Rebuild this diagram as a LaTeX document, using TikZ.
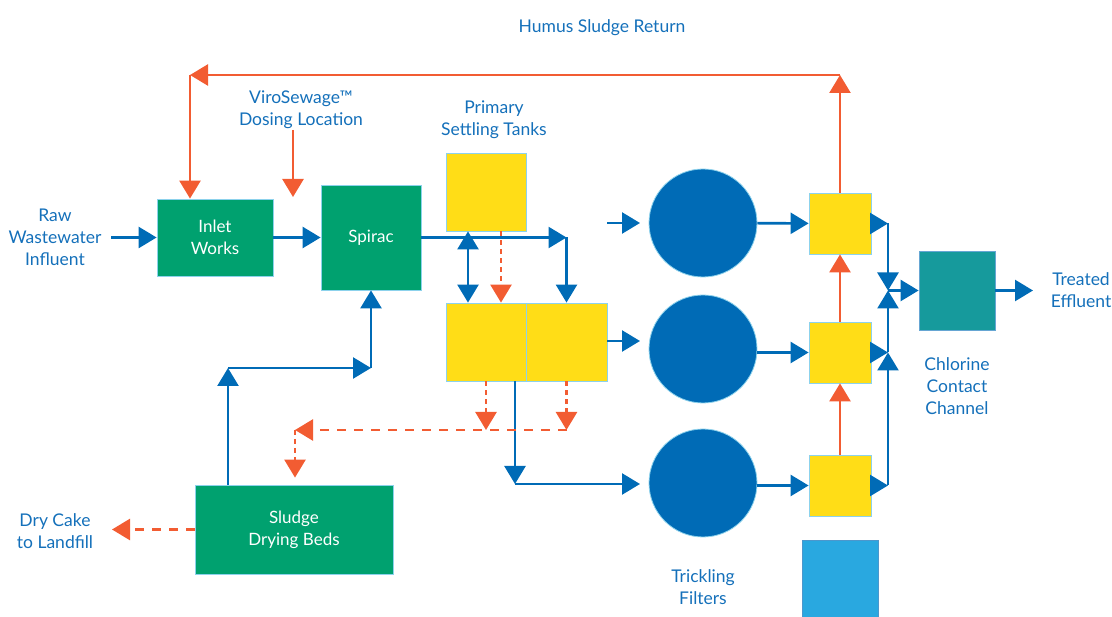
\documentclass[tikz,border=0pt]{standalone}
\usepackage{fontspec}
\setmainfont{Lato}
\usepackage{xcolor}
\usepackage{tikz}
\usetikzlibrary{arrows.meta}

\definecolor{flowblue}{RGB}{0,107,182}
\definecolor{sludgered}{RGB}{242,92,50}
\definecolor{plantgreen}{RGB}{0,161,111}
\definecolor{tankyellow}{RGB}{255,221,23}
\definecolor{chlorteal}{RGB}{22,154,156}
\definecolor{skyblue}{RGB}{41,168,224}
\definecolor{rimblue}{RGB}{140,210,236}
\definecolor{labelblue}{RGB}{20,112,186}

\tikzset{
    unit/.style={draw=rimblue,line width=0.8pt,text=white,align=center,font=\fontsize{17}{22}\selectfont,inner sep=0pt},
    greenbox/.style={unit,fill=plantgreen},
    tankbox/.style={unit,fill=tankyellow},
    filter/.style={circle,draw=rimblue,line width=0.8pt,fill=flowblue,minimum size=108pt,inner sep=0pt},
    caption/.style={text=labelblue,align=center,font=\fontsize{17.5}{22}\selectfont},
    flow/.style={draw=flowblue,line width=2.6pt,-{Triangle[length=18pt,width=21pt]}},
    sludge/.style={draw=sludgered,line width=2.6pt,-{Triangle[length=18pt,width=21pt]}},
    wet/.style={sludge,dash pattern=on 9pt off 8pt},
    drip/.style={sludge,dash pattern=on 5pt off 4pt},
}

\begin{document}
\begin{tikzpicture}[x=1pt,y=-1pt]
    \useasboundingbox (0,0) rectangle (1112,617);

    \node[greenbox,minimum width=116pt,minimum height=77pt] (inlet) at (215,237.5) {Inlet\\Works};
    \node[greenbox,minimum width=100pt,minimum height=105pt] (spirac) at (371,237.5) {Spirac};
    \node[greenbox,minimum width=198pt,minimum height=89pt] (beds) at (294,529.5) {Sludge\\Drying Beds};
    \node[tankbox,minimum width=80pt,minimum height=78pt] (pst) at (486,192) {};
    \node[tankbox,minimum width=80pt,minimum height=78pt] (pstL) at (486,342) {};
    \node[tankbox,minimum width=81pt,minimum height=78pt] (pstR) at (566.5,342) {};
    \node[filter] (tf1) at (703,223) {};
    \node[filter] (tf2) at (703,349) {};
    \node[filter] (tf3) at (703,483) {};
    \node[tankbox,minimum width=62pt,minimum height=61pt] (hum1) at (840,223.5) {};
    \node[tankbox,minimum width=62pt,minimum height=61pt] (hum2) at (840,352.5) {};
    \node[tankbox,minimum width=62pt,minimum height=61pt] (hum3) at (840,485.5) {};
    \node[unit,fill=chlorteal,draw=flowblue!60,minimum width=76pt,minimum height=79pt] (ccc) at (957,290.5) {};
    \node[unit,fill=skyblue,draw=flowblue!70,minimum width=76pt,minimum height=86pt] (spare) at (840,583) {};

    \node[caption] (rawtxt) at (55,237.5) {Raw\\Wastewater\\Influent};
    \node[caption] (dosetxt) at (301,110) {ViroSewage™\\Dosing Location};
    \node[caption] (psttxt) at (494,120) {Primary\\Settling Tanks};
    \node[caption] (humtxt) at (602,28) {Humus Sludge Return};
    \node[caption] (tftxt) at (703,587.5) {Trickling\\Filters};
    \node[caption] (ccctxt) at (957,386) {Chlorine\\Contact\\Channel};
    \node[caption] (efftxt) at (1081,290) {Treated\\Effluent};
    \node[caption] (caketxt) at (55,531) {Dry Cake\\to Landfill};

    \coordinate (rawin) at (111,237.5);
    \coordinate (split) at (566.5,237.5);
    \coordinate (tf1in) at (640,223);
    \coordinate (tf1feed) at (607,223);
    \coordinate (tf2in) at (640,341);
    \coordinate (drop) at (515,484);
    \coordinate (tf3in) at (640,484);
    \coordinate (m1) at (888,223.5);
    \coordinate (m2) at (888,352.5);
    \coordinate (m3) at (888,485.5);
    \coordinate (mj) at (888,290.5);
    \coordinate (effout) at (1033,290.5);
    \coordinate (hret) at (840,75);
    \coordinate (hcorner) at (190,75);
    \coordinate (dosetop) at (293,130);
    \coordinate (dosetip) at (293,197);
    \coordinate (sj1) at (566.5,430);
    \coordinate (sj2) at (295,430);
    \coordinate (cake) at (112,529.5);
    \coordinate (r1) at (228,368);
    \coordinate (r2) at (371,368);

    \draw[flow] (rawin) -- (inlet);
    \draw[flow] (inlet) -- (spirac);
    \draw[flow] (spirac) -- (split);
    \draw[flow] (split) -- (pstR);
    \draw[flow,{Triangle[length=18pt,width=21pt]}-{Triangle[length=18pt,width=21pt]}] ([xshift=-18pt]pst.south) -- ([xshift=-18pt]pstL.north);
    \draw[drip] ([xshift=15pt]pst.south) -- ([xshift=15pt]pstL.north);
    \draw[flow] (tf1feed) -- (tf1in);
    \draw[flow] (pstR.east |- tf2in) -- (tf2in);
    \draw[flow] (pstL.south -| drop) -- (drop);
    \draw[flow] (drop) -- (tf3in);
    \draw[flow] (tf1) -- (hum1);
    \draw[flow] (tf2.east |- hum2) -- (hum2);
    \draw[flow] (tf3.east |- hum3) -- (hum3);
    \draw[flow] (hum1.east) -- (m1);
    \draw[flow] (hum2.east) -- (m2);
    \draw[flow] (hum3.east) -- (m3);
    \draw[flow] (m1) -- (mj);
    \draw[flow] (m3) -- (m2);
    \draw[flow] (m2) -- (mj);
    \draw[flow] (mj) -- (ccc);
    \draw[flow] (ccc) -- (effout);

    \draw[sludge] (hum1) -- (hret);
    \draw[sludge] (hret) -- (hcorner);
    \draw[sludge] (hcorner) -- (inlet.north -| hcorner);
    \draw[sludge] (hum2) -- (hum1);
    \draw[sludge] (hum3) -- (hum2);
    \draw[sludge] (dosetop) -- (dosetip);

    \draw[drip] (pstL.south) -- (pstL.south |- sj1);
    \draw[drip] (pstR.south) -- (sj1);
    \draw[wet] (sj1) -- (sj2);
    \draw[drip,shorten >=7pt] (sj2) -- (beds.north -| sj2);
    \draw[wet] (beds) -- (cake);

    \draw[flow] ([xshift=-66pt]beds.north) -- (r1);
    \draw[flow] (r1) -- (r2);
    \draw[flow] (r2) -- (spirac);
\end{tikzpicture}
\end{document}
